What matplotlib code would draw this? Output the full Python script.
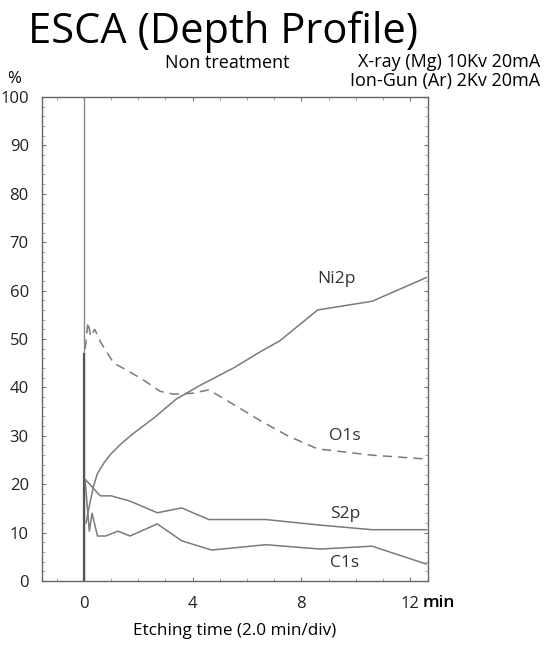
import matplotlib
matplotlib.use("Agg")
import matplotlib.pyplot as plt
from matplotlib.ticker import MultipleLocator

plt.rcParams['font.family'] = ['Open Sans', 'DejaVu Sans']

# data (etching time in min, atomic %)
ni_x = [0.08, 0.2, 0.35, 0.5, 0.75, 1.0, 1.4, 1.8, 2.6, 3.4, 4.3, 5.5, 6.5, 7.2, 8.6, 10.6, 12.6]
ni_y = [12.0, 15.5, 19.5, 22.2, 24.5, 26.3, 28.5, 30.4, 33.8, 37.6, 40.5, 44.0, 47.4, 49.6, 56.0, 57.8, 62.7]

o_x = [0.05, 0.15, 0.25, 0.4, 0.6, 1.1, 1.6, 2.2, 2.8, 3.3, 4.0, 4.6, 5.5, 6.5, 7.5, 8.6, 10.6, 12.6]
o_y = [48.0, 53.5, 50.5, 52.0, 49.5, 45.0, 43.5, 41.5, 39.2, 38.6, 38.8, 39.5, 36.5, 33.1, 30.0, 27.3, 26.0, 25.2]

s_x = [0.05, 0.6, 1.0, 1.7, 2.7, 3.6, 4.6, 6.7, 8.6, 10.6, 12.6]
s_y = [21.0, 17.6, 17.6, 16.5, 14.1, 15.1, 12.7, 12.7, 11.6, 10.6, 10.6]

c_x = [0.05, 0.2, 0.3, 0.5, 0.8, 1.25, 1.7, 2.7, 3.6, 4.7, 6.7, 8.7, 10.6, 12.6]
c_y = [20.5, 10.3, 14.0, 9.3, 9.3, 10.3, 9.3, 11.8, 8.3, 6.4, 7.5, 6.6, 7.2, 3.5]

labels = ["Ni2p", "O1s", "S2p", "C1s"]
label_x = [9.3, 9.6, 9.6, 9.6]
label_y = [62.3, 30.0, 13.9, 3.7]

x_ticks = [0, 4, 8, 12]
y_ticks = [0, 10, 20, 30, 40, 50, 60, 70, 80, 90, 100]

fig = plt.figure(figsize=(5.5, 6.46), dpi=100)
ax = fig.add_axes([0.0764, 0.1006, 0.7018, 0.7492])

line_c = '#7a7a7a'
ax.axvline(0, color='#8a8a8a', lw=1.0)
ax.plot([0, 0], [0, 47], color='#555555', lw=1.6)
ax.plot(ni_x, ni_y, color=line_c, lw=1.1)
ax.plot(o_x, o_y, color=line_c, lw=1.1, ls=(0, (6, 4)))
ax.plot(s_x, s_y, color=line_c, lw=1.1)
ax.plot(c_x, c_y, color=line_c, lw=1.1)

for t, lx, ly in zip(labels, label_x, label_y):
    ax.text(lx, ly, t, fontsize=12.5, color='#333333', ha='center', va='center')

ax.set_xlim(-1.54, 12.66)
ax.set_ylim(0, 100)
ax.set_xticks(x_ticks)
ax.set_xticklabels([str(v) for v in x_ticks])
ax.set_yticks(y_ticks)
ax.xaxis.set_minor_locator(MultipleLocator(1))
ax.yaxis.set_minor_locator(MultipleLocator(2))
ax.tick_params(axis='both', which='major', labelsize=12, length=3, direction='in',
               color='#777777', top=True, right=True)
ax.tick_params(axis='both', which='minor', length=2, direction='in', color='#999999',
               top=True, right=True)
ax.tick_params(axis='x', pad=10.5)
ax.tick_params(axis='y', pad=9.5)
for lab in ax.get_xticklabels() + ax.get_yticklabels():
    lab.set_color('#222222')
for sp in ax.spines.values():
    sp.set_color('#666666')
    sp.set_linewidth(1.0)

ax.text(12.48, -0.0445, 'min', transform=ax.get_xaxis_transform(), fontsize=12.5,
        va='center', ha='left', color='black', fontweight='semibold', clip_on=False)

ax.set_xlabel('Etching time (2.0 min/div)', fontsize=12.3, labelpad=8)

fig.text(0.405, 0.951, 'ESCA (Depth Profile)', fontsize=30, ha='center', va='center')
fig.text(0.413, 0.903, 'Non treatment', fontsize=13, ha='center', va='center')
fig.text(0.982, 0.904, 'X-ray (Mg) 10Kv 20mA', fontsize=13, ha='right', va='center')
fig.text(0.982, 0.874, 'Ion-Gun (Ar) 2Kv 20mA', fontsize=13, ha='right', va='center')
fig.text(0.013, 0.877, '%', fontsize=12, ha='left', va='center')

fig.savefig('out.png', dpi=100)
